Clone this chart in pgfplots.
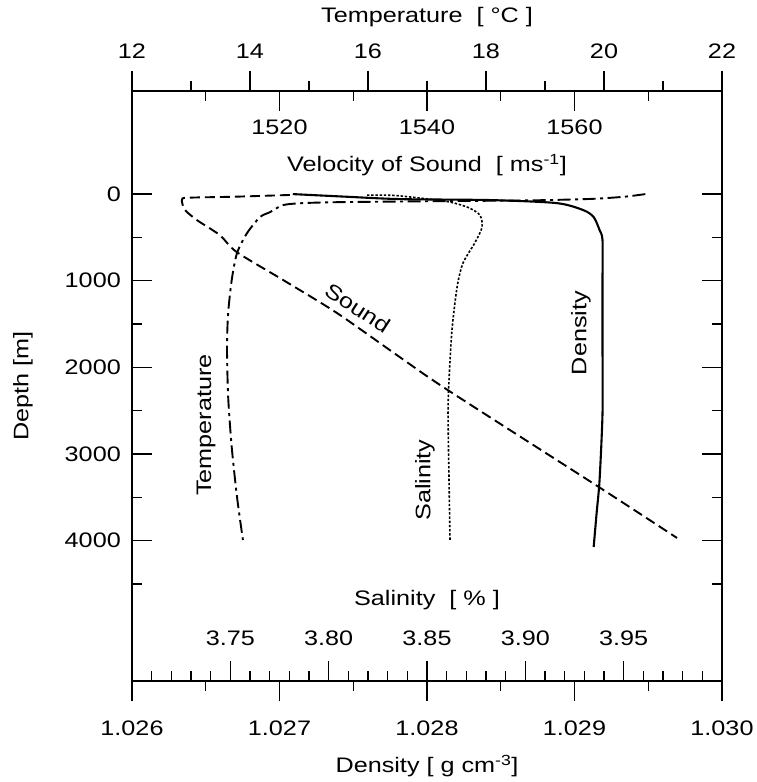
\documentclass[border=0pt]{standalone}
\usepackage{fontspec}
\setmainfont{Liberation Sans}[FakeStretch=1.2]
\usepackage{pgfplots}
\pgfplotsset{compat=1.18}

\pgfplotsset{
  common/.style={
    scale only axis, width=590pt, height=590pt,
    at={(0pt,0pt)}, anchor=south west,
    ymin=-1190, ymax=5620, y dir=reverse,
    clip=false,
    /pgf/number format/assume math mode=true,
    /pgf/number format/1000 sep={},
    scaled ticks=false,
    major tick length=20pt, minor tick length=10pt,
    tick style={black, line width=1.3pt},
    major tick style={black, line width=1.3pt},
    minor tick style={black, line width=1.3pt},
    axis line style={black, line width=1.6pt},
    tick label style={font=\fontsize{21}{24}\selectfont},
    label style={font=\fontsize{21}{24}\selectfont},
  },
  curve/.style={black, line width=1.9pt, no marks, smooth, tension=0.45},
}
\tikzset{lbl/.style={font=\fontsize{21}{24}\selectfont, inner sep=0pt}}

\begin{document}
\fontsize{21}{24}\selectfont
\begin{tikzpicture}

% density (bottom) and depth, full frame
\begin{axis}[common,
  xmin=1.026, xmax=1.030,
  xtick={1.026,1.027,1.028,1.029,1.030},
  minor xtick={1.0265,1.0275,1.0285,1.0295},
  xtick pos=left, xtick align=outside,
  ytick={0,1000,2000,3000,4000},
  minor ytick={500,1500,2500,3500,4500},
  ytick pos=both, yticklabel pos=left, ytick align=inside,
  xticklabel style={/pgf/number format/fixed, /pgf/number format/fixed zerofill,
    /pgf/number format/precision=3, anchor=center, yshift=-27pt},
  yticklabel style={anchor=east, xshift=-4pt},
  xlabel={Density [ g cm\textsuperscript{-3}]},
  xlabel style={at={(axis description cs:0.5,-0.144)}, anchor=center},
  ylabel={Depth [m]},
  ylabel style={at={(axis description cs:-0.1847,0.5)}, anchor=center},
]
\addplot[curve, line width=2.1pt] coordinates {
  (1.02709,0) (1.02745,30) (1.02782,58) (1.02843,69) (1.02888,104)
  (1.02906,185) (1.02913,265) (1.02917,415) (1.02919,531) (1.02919,992)
  (1.02919,1765) (1.02919,2527) (1.02917,3300) (1.02915,3681) (1.02913,4073)
};
\node[lbl, rotate=90] at (axis cs:1.029044,1604) {Density};
\end{axis}

% salinity (inner scale at the bottom)
\begin{axis}[common,
  xmin=3.70, xmax=4.00,
  axis x line*=bottom, hide y axis,
  xtick={3.75,3.80,3.85,3.90,3.95},
  minor xtick={3.71,3.72,3.73,3.74,3.76,3.77,3.78,3.79,3.81,3.82,3.83,3.84,
    3.86,3.87,3.88,3.89,3.91,3.92,3.93,3.94,3.96,3.97,3.98,3.99},
  xtick align=inside,
  xticklabel style={/pgf/number format/fixed, /pgf/number format/fixed zerofill,
    /pgf/number format/precision=2, anchor=center, yshift=43pt},
  xlabel={Salinity\ \ [ \% ]},
  xlabel style={at={(axis description cs:0.5,0.1373)}, anchor=center},
]
\addplot[curve, line width=1.6pt, dash pattern=on 2.4pt off 1.8pt] coordinates {
  (3.8195,12) (3.8330,15) (3.8480,50) (3.8617,92) (3.8710,155)
  (3.8769,242) (3.8780,381) (3.8744,560) (3.8683,796) (3.8653,1073)
  (3.8627,1569) (3.8612,2146) (3.8607,2527) (3.8612,3300) (3.8617,3992)
};
\node[lbl, rotate=90] at (axis cs:3.849,3300) {Salinity};
\end{axis}

% temperature (top)
\begin{axis}[common,
  xmin=12, xmax=22,
  axis x line*=top, hide y axis,
  xtick={12,14,16,18,20,22},
  minor xtick={13,15,17,19,21},
  xtick align=outside,
  xticklabel style={anchor=center, yshift=20pt},
  xlabel={Temperature\ \ [ °C ]},
  xlabel style={at={(axis description cs:0.5,1.1254)}, anchor=center},
]
\addplot[curve, dash pattern=on 13pt off 4.5pt on 3pt off 4.5pt] coordinates {
  (20.70,0) (20.35,30) (19.8,55) (18.8,72) (17.5,80) (16.5,86) (15.5,93)
  (14.9,104) (14.56,127) (14.34,208) (14.17,265) (13.95,450) (13.78,681)
  (13.69,992) (13.63,1373) (13.61,1765) (13.63,2342) (13.69,2919)
  (13.78,3496) (13.88,3992)
};
\node[lbl, rotate=90] at (axis cs:13.254,2665) {Temperature};
\end{axis}

% velocity of sound (inner scale at the top)
\begin{axis}[common,
  xmin=1500, xmax=1580,
  axis x line*=top, hide y axis,
  xtick={1520,1540,1560},
  minor xtick={1510,1530,1550,1570},
  xtick align=inside,
  xticklabel style={anchor=center, yshift=-36pt},
  xlabel={Velocity of Sound\ \ [ ms\textsuperscript{-1}]},
  xlabel style={at={(axis description cs:0.5,0.8746)}, anchor=center},
]
\addplot[curve, dash pattern=on 10pt off 5pt] coordinates {
  (1521.4,10) (1514,30) (1507.5,42) (1506.8,60) (1506.8,100) (1507.2,185)
  (1508.8,300) (1511.9,473) (1514.2,669) (1520.5,992) (1527.8,1373)
  (1536.3,1881) (1542.8,2261) (1563.5,3392) (1573.9,3969)
};
\node[lbl, rotate=-33] at (axis cs:1530.6,1315) {Sound};
\end{axis}

\pgfresetboundingbox
\path[use as bounding box] (-132pt,-101pt) rectangle (625pt,681pt);
\end{tikzpicture}
\end{document}
